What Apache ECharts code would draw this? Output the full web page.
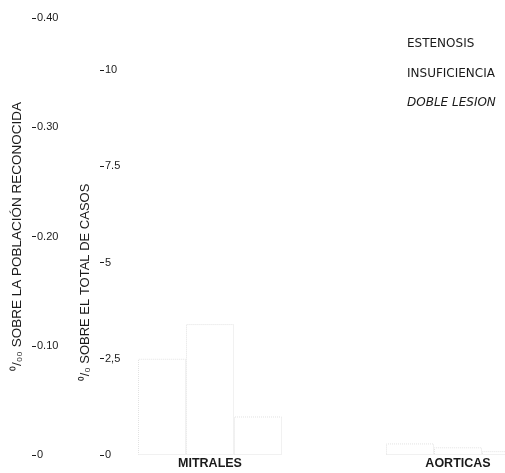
<!DOCTYPE html>
<html>
<head>
<meta charset="utf-8">
<script src="https://cdn.jsdelivr.net/npm/echarts@6/dist/echarts.min.js"></script>
<style>
  html, body { margin: 0; padding: 0; background: #fff; }
  #chart { width: 505px; height: 473px; }
</style>
</head>
<body>
<div id="chart"></div>
<script>
// categorias y series (valores leidos sobre el eje de % del total de casos)
var categories = ['MITRALES', 'AORTICAS'];
var seriesNames = ['ESTENOSIS', 'INSUFICIENCIA', 'DOBLE LESION'];
var estenosis = [2.5, 0.3];
var insuficiencia = [3.4, 0.2];
var dobleLesion = [1.0, 0.1];
var leftTicks = ['0', '0.10', '0.20', '0.30', '0.40'];
var rightTicks = ['0', '2,5', '5', '7.5', '10'];

var chart = echarts.init(document.getElementById('chart'));

var textColor = '#1a1a1a';
var fontFamily = 'Liberation Sans, Arial, sans-serif';

function barSeries(name, data) {
    return {
        name: name,
        type: 'bar',
        yAxisIndex: 1,
        data: data,
        barWidth: 48,
        barGap: '0%',
        itemStyle: {
            color: 'rgba(255,255,255,0)',
            borderColor: '#e2e2e2',
            borderWidth: 1,
            borderType: 'dotted'
        }
    };
}

var options = {
    backgroundColor: '#fff',
    animation: false,
    textStyle: { fontFamily: fontFamily, color: textColor },
    legend: {
        orient: 'vertical',
        left: 397,
        top: 33,
        icon: 'none',
        itemWidth: 0,
        itemHeight: 12,
        itemGap: 17.5,
        selectedMode: false,
        textStyle: { fontSize: 12, fontFamily: 'DejaVu Sans', color: textColor },
        data: [
            { name: seriesNames[0] },
            { name: seriesNames[1] },
            { name: seriesNames[2], textStyle: { fontStyle: 'italic' } }
        ]
    },
    grid: {
        left: 86,
        top: 18,
        width: 496,
        bottom: 18,
        outerBoundsMode: 'none'
    },
    xAxis: {
        type: 'category',
        data: categories,
        boundaryGap: true,
        axisLine: { show: false },
        axisTick: { show: false },
        axisLabel: {
            margin: 2,
            fontSize: 12.5,
            fontWeight: 'bold',
            color: textColor
        }
    },
    yAxis: [{
        type: 'value',
        position: 'left',
        offset: 54,
        min: 0,
        max: 0.4,
        interval: 0.1,
        name: '\u2070/\u2080\u2080 SOBRE LA POBLACI\u00d3N RECONOCIDA',
        nameLocation: 'middle',
        nameRotate: 90,
        nameGap: 5,
        nameTextStyle: { fontSize: 13.5, color: textColor },
        axisLine: { show: false },
        axisTick: { show: true, inside: true, length: 4, lineStyle: { color: textColor } },
        splitLine: { show: false },
        axisLabel: {
            inside: true,
            margin: 5,
            fontSize: 11,
            color: textColor,
            formatter: function (v, i) { return leftTicks[i]; }
        }
    }, {
        type: 'value',
        position: 'left',
        offset: -14,
        min: 0,
        max: 11.35,
        interval: 2.5,
        name: '\u2070/\u2080 SOBRE EL TOTAL DE CASOS',
        nameLocation: 'middle',
        nameRotate: 90,
        nameGap: 2,
        nameTextStyle: { fontSize: 13, color: textColor, padding: [0, 92, 0, 0] },
        axisLine: { show: false },
        axisTick: { show: true, inside: true, length: 4, lineStyle: { color: textColor } },
        splitLine: { show: false },
        axisLabel: {
            inside: true,
            margin: 5,
            fontSize: 11,
            color: textColor,
            showMaxLabel: false,
            formatter: function (v, i) { return rightTicks[i] || ''; }
        }
    }],
    series: [
        barSeries(seriesNames[0], estenosis),
        barSeries(seriesNames[1], insuficiencia),
        barSeries(seriesNames[2], dobleLesion)
    ]
};

chart.setOption(options);
</script>
</body>
</html>
